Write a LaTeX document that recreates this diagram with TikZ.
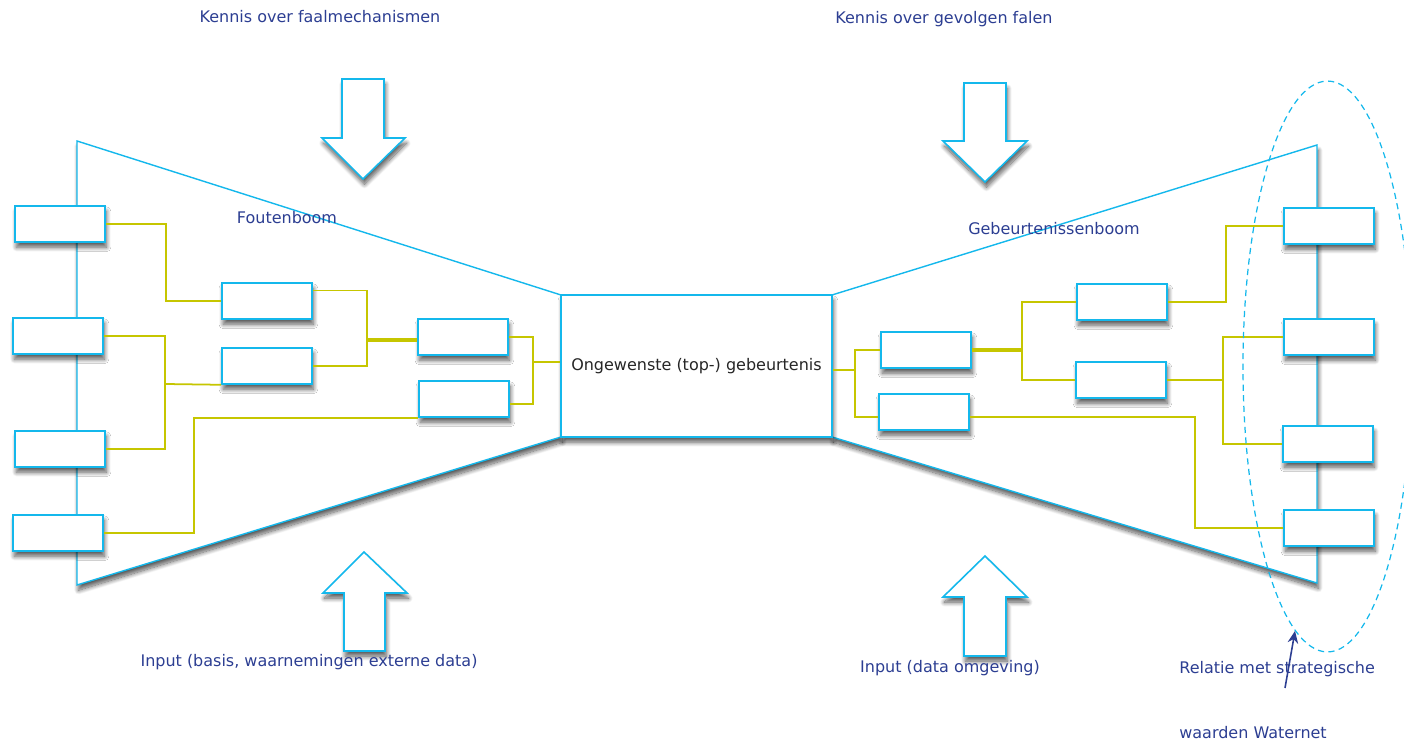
\documentclass[tikz,border=0pt]{standalone}
\usepackage{fontspec}
\setmainfont{DejaVu Sans}
\usepackage{xcolor}
\usepackage{tikz}
\usetikzlibrary{arrows.meta, positioning, shapes.geometric, shadows.blur}
\definecolor{lineblue}{RGB}{20,184,236}
\definecolor{linkgreen}{RGB}{198,198,0}
\definecolor{labelblue}{RGB}{44,62,146}
\newcommand{\labelfont}{\fontsize{9.1}{11}\selectfont}

\begin{document}
\begin{tikzpicture}[
      x=0.02cm, y=-0.02cm,
      shade/.style = {blur shadow={shadow xshift=0.8pt, shadow yshift=-3pt,
                      shadow blur radius=2.5pt, shadow opacity=65,
                      shadow blur steps=12}},
      event/.style = {draw=lineblue, line width=0.9pt, fill=white, shade,
                      minimum width=1.8cm, minimum height=0.72cm,
                      inner sep=0pt},
      wing/.style  = {draw=lineblue, line width=0.8pt, fill=white, shade},
      bigarrow/.style = {draw=lineblue, line width=0.9pt, fill=white, shade},
      link/.style  = {draw=linkgreen, line width=1pt},
      trunk/.style = {draw=linkgreen, line width=2pt},
      caption/.style = {text=labelblue, font=\labelfont, inner sep=0pt}
    ]
    \useasboundingbox (0,0) rectangle (1404,742);

    % the two trees of the bow tie
    \draw[wing] (77,141) -- (561,295) -- (561,437) -- (77,585) -- cycle;
    \draw[wing] (1317,145) -- (832,295) -- (832,437) -- (1317,583) -- cycle;
    \node[draw=lineblue, line width=0.9pt, fill=white, shade,
          minimum width=5.42cm, minimum height=2.84cm, inner sep=0pt,
          font=\labelfont, text=black!85] (top) at (696.5,366)
          {Ongewenste (top-) gebeurtenis};

    % knowledge and input arrows
    \draw[bigarrow] (342,79) -- (384,79) -- (384,138) -- (405,138) -- (363,179)
                    -- (322,138) -- (342,138) -- cycle;
    \draw[bigarrow] (964,83) -- (1006,83) -- (1006,141) -- (1027,141) -- (985,182)
                    -- (943,141) -- (964,141) -- cycle;
    \draw[bigarrow] (344,651) -- (385,651) -- (385,593) -- (407,593) -- (364,552)
                    -- (323,593) -- (344,593) -- cycle;
    \draw[bigarrow] (964,656) -- (1006,656) -- (1006,597) -- (1027,597) -- (985,556)
                    -- (943,597) -- (964,597) -- cycle;

    % fault tree
    \node[event] (c1) at (60,224)  {};
    \node[event] (c2) at (58,336)  {};
    \node[event] (c3) at (60,449)  {};
    \node[event] (c4) at (58,533)  {};
    \node[event] (f1) at (267,301) {};
    \node[event] (f2) at (267,366) {};
    \node[event] (f3) at (463,337) {};
    \node[event] (f4) at (464,399) {};

    % event tree
    \node[event] (e1) at (926,350)  {};
    \node[event] (e2) at (924,412)  {};
    \node[event] (e3) at (1122,302) {};
    \node[event] (e4) at (1121,380) {};
    \node[event] (g1) at (1329,226) {};
    \node[event] (g2) at (1329,337) {};
    \node[event] (g3) at (1328,444) {};
    \node[event] (g4) at (1329,528) {};

    \coordinate (j2) at (165,384);
    \coordinate (j3) at (367,340);
    \coordinate (j4) at (533,362);
    \coordinate (j5) at (855,370);
    \coordinate (j6) at (1022,350);
    \coordinate (j7) at (1223,380);

    \draw[link] (c1.east) -- ++(60,0) |- (f1.west);
    \draw[link] (c2.east) -| (j2) -- (f2.south west);
    \draw[link] (c3.east) -| (j2);
    \draw[link] (c4.east) -- ++(90,0) |- (f4.south west);
    \draw[link] ([yshift=6pt]f1.east) -| (j3);
    \draw[link] (f2.east) -| (j3);
    \draw[trunk] (j3) -- (j3 -| f3.west);
    \draw[link] (f3.east) -| (j4);
    \draw[link] ([yshift=-3pt]f4.east) -| (j4);
    \draw[link, line width=1.6pt] (j4) -- (j4 -| top.west);

    \draw[link, line width=1.6pt] (top.east |- j5) -- (j5);
    \draw[link] (j5) |- (e1.west);
    \draw[link] (j5) |- ([yshift=-3pt]e2.west);
    \draw[trunk] (e1.east) -- (j6);
    \draw[link] (j6) |- (e3.west);
    \draw[link] (j6) |- (e4.west);
    \draw[link] (e3.east) -- ++(58,0) |- (g1.west);
    \draw[link] (e4.east) -- (j7);
    \draw[link] (g2.west) -| (j7) |- (g3.west);
    \draw[link] ([yshift=-3pt]e2.east) -- ++(225,0) |- (g4.west);

    % captions
    \node[caption] (kfaal) at (320,17)  {Kennis over faalmechanismen};
    \node[caption] (kgev)  at (944,19)  {Kennis over gevolgen falen};
    \node[caption] (ftree) at (287,218) {Foutenboom};
    \node[caption] (etree) at (1054,229) {Gebeurtenissenboom};
    \node[caption] (inl)   at (309,662) {Input (basis, waarnemingen externe data)};
    \node[caption] (inr)   at (950,668) {Input (data omgeving)};
    \node[caption, anchor=west] (rel)  at (1179,669) {Relatie met strategische};
    \node[caption, anchor=west] (wtn)  at (1179,733) {waarden Waternet};

    % strategic values
    \node[draw=lineblue, dashed, dash pattern=on 3.5pt off 2.5pt, line width=0.7pt,
          ellipse, minimum width=3.38cm, minimum height=11.42cm, inner sep=0pt]
          (values) at (1327.5,366.5) {};
    \coordinate (tail) at (1285,688);
    \draw[-{Stealth[length=7pt, width=6pt]}, draw=labelblue, line width=0.9pt]
          (tail) -- (values.263);
  \end{tikzpicture}
\end{document}
